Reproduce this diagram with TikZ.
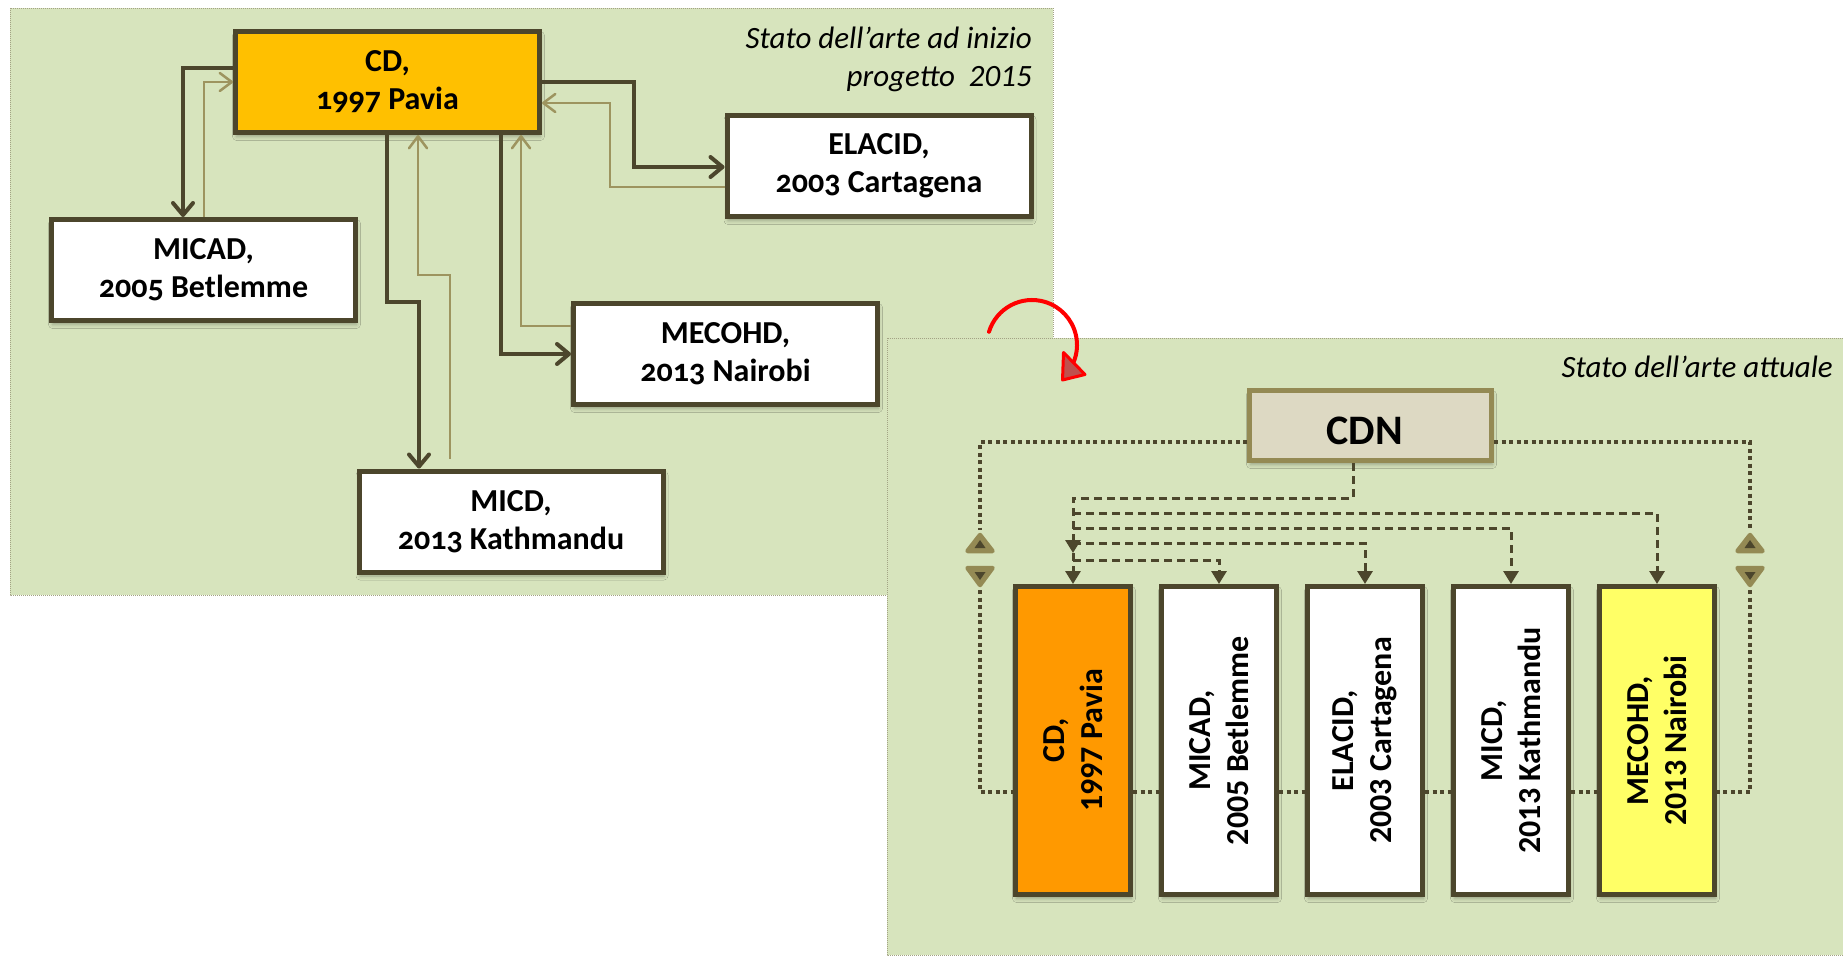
\documentclass[tikz,border=0pt]{standalone}
\usepackage{fontspec}
\setmainfont{Carlito}
\newfontfamily\oldstylefont[Numbers=OldStyle]{Carlito}
\usetikzlibrary{arrows.meta,shadows.blur}
\definecolor{panelbg}{HTML}{D7E4BD}
\definecolor{panelrule}{HTML}{A3A385}
\definecolor{darkol}{HTML}{4C462C}
\definecolor{lightol}{HTML}{9D945F}
\definecolor{cdgold}{HTML}{FFC000}
\definecolor{cdorange}{HTML}{FF9900}
\definecolor{mecyellow}{HTML}{FFFF66}
\definecolor{cdnfill}{HTML}{DDD9C3}
\definecolor{cdnrule}{HTML}{948A54}
\definecolor{arrowred}{HTML}{FF0000}
\definecolor{arrowfill}{HTML}{C0504D}
\begin{document}
\begin{tikzpicture}[x=1pt,y=-1pt,
  panel/.style={fill=panelbg, draw=panelrule, line width=0.8pt, dash pattern=on 1pt off 1pt},
  boxshadow/.style={blur shadow={shadow xshift=1pt, shadow yshift=-4pt, shadow blur radius=4pt, shadow opacity=30}},
  hbox/.style={draw=darkol, line width=5pt, fill=white, minimum width=304pt, minimum height=101pt, inner sep=0pt, align=center, font=\fontsize{32}{38}\selectfont\oldstylefont\bfseries, boxshadow},
  vbox/.style={draw=darkol, line width=5pt, fill=white, minimum width=115pt, minimum height=308pt, inner sep=0pt, boxshadow},
  vlabel/.style={rotate=90, align=center, font=\fontsize{32}{38}\selectfont\bfseries, inner sep=0pt},
  paneltitle/.style={font=\fontsize{31}{38}\selectfont\itshape, inner sep=0pt, anchor=base east},
  darkarrow/.style={draw=darkol, line width=4pt, -{Straight Barb[length=12pt,width=20pt,round]}},
  lightarrow/.style={draw=lightol, line width=2.5pt, -{Straight Barb[length=12pt,width=18pt,round]}},
  dashline/.style={draw=darkol, line width=3pt, dash pattern=on 8pt off 5pt},
  dasharrow/.style={dashline, -{Triangle[length=13pt,width=15pt]}},
  dotline/.style={draw=darkol, line width=4pt, dash pattern=on 4pt off 3.5pt},
  tripair/.pic={
    \filldraw[draw=cdnrule, fill=cdnrule, line width=4.5pt, line join=round] (-12.5,-9) -- (12.5,-9) -- (0,-25) -- cycle;
    \fill[darkol] (-5.5,-12) -- (5.5,-12) -- (0,-20) -- cycle;
    \filldraw[draw=cdnrule, fill=cdnrule, line width=4.5pt, line join=round] (-12.5,8) -- (12.5,8) -- (0,25) -- cycle;
    \fill[darkol] (-5.5,12) -- (5.5,12) -- (0,20) -- cycle;
  }
]
\useasboundingbox (0,0) rectangle (1843,955);

% ---------- left panel ----------
\path[panel] (10,8) rectangle (1053,595);
\node[paneltitle] (t1) at (1032,49) {Stato dell’arte ad inizio};
\node[paneltitle] (t2) at (1032,87) {progetto\ \ 2015};

\node[hbox, fill=cdgold] (cd) at (387.5,82) {CD,\\1997 Pavia};
\node[hbox] (micad) at (203.5,270) {MICAD,\\2005 Betlemme};
\node[hbox] (elacid) at (879,166) {ELACID,\\2003 Cartagena};
\node[hbox] (mecohd) at (725.5,354) {MECOHD,\\2013 Nairobi};
\node[hbox] (micd) at (511,521.5) {MICD,\\2013 Kathmandu};

\draw[darkarrow] (cd.west |- 0,68) -- (183,68) -- (183,0 |- micad.north);
\draw[darkarrow] (cd.east |- 0,82) -- (634,82) -- (634,167) -- (elacid.west |- 0,167);
\draw[darkarrow] (387,0 |- cd.south) -- (387,302) -- (419,302) -- (419,0 |- micd.north);
\draw[darkarrow] (501,0 |- cd.south) -- (501,354) -- (mecohd.west |- 0,354);

\draw[lightarrow] (204,0 |- micad.north) -- (204,82) -- (cd.west |- 0,82);
\draw[lightarrow] (elacid.west |- 0,187) -- (610,187) -- (610,103) -- (cd.east |- 0,103);
\draw[lightarrow, shorten <=10pt] (450,0 |- micd.north) -- (450,275) -- (418,275) -- (418,0 |- cd.south);
\draw[lightarrow] (mecohd.west |- 0,326) -- (521,326) -- (521,0 |- cd.south);

% ---------- right panel ----------
\path[panel] (887,338) rectangle (1843,955);
\node[paneltitle] (t3) at (1833,377) {Stato dell’arte attuale};

\node[draw=cdnrule, line width=5pt, fill=cdnfill, minimum width=242pt, minimum height=70pt, inner sep=0pt, boxshadow] (cdn) at (1370.5,425.5) {};
\node[font=\fontsize{42}{50}\selectfont\bfseries, inner sep=0pt] (cdnlabel) at ([xshift=-6pt,yshift=-5pt]cdn.center) {CDN};

\node[vbox, fill=cdorange] (b1) at (1073,740.5) {};
\node[vbox] (b2) at (1219,740.5) {};
\node[vbox] (b3) at (1365,740.5) {};
\node[vbox] (b4) at (1511,740.5) {};
\node[vbox, fill=mecyellow] (b5) at (1657,740.5) {};
\node[vlabel] (l1) at (b1.center) {CD,\\1997 Pavia};
\node[vlabel] (l2) at (b2.center) {MICAD,\\2005 Betlemme};
\node[vlabel] (l3) at (b3.center) {ELACID,\\2003 Cartagena};
\node[vlabel] (l4) at (b4.center) {MICD,\\2013 Kathmandu};
\node[vlabel] (l5) at (b5.center) {MECOHD,\\2013 Nairobi};

% dashed distribution
\draw[dasharrow] (1353,0 |- cdn.south) -- (1353,498) -- (1073,498) -- (1073,553);
\draw[dasharrow] (1073,553) -- (b1.north);
\draw[dasharrow] (1073,513) -- (1657,513) -- (b5.north);
\draw[dasharrow] (1073,528) -- (1511,528) -- (b4.north);
\draw[dasharrow] (1073,543) -- (1365,543) -- (b3.north);
\draw[dasharrow] (1073,560) -- (1219,560) -- (b2.north);

% dotted ring
\draw[dotline] (cdn.west |- 0,442) -- (980,442) -- (980,530);
\draw[dotline] (980,590) -- (980,792) -- (b1.west |- 0,792);
\draw[dotline] (cdn.east |- 0,442) -- (1750,442) -- (1750,530);
\draw[dotline] (1750,590) -- (1750,792) -- (b5.east |- 0,792);
\draw[dotline] (b1.east |- 0,792) -- (b2.west |- 0,792);
\draw[dotline] (b2.east |- 0,792) -- (b3.west |- 0,792);
\draw[dotline] (b3.east |- 0,792) -- (b4.west |- 0,792);
\draw[dotline] (b4.east |- 0,792) -- (b5.west |- 0,792);
\pic at (980,560) {tripair};
\pic at (1750,560) {tripair};

% red curved arrow
\draw[arrowred, line width=4pt, line cap=round] (1032,345) ++(197:45) arc[start angle=197, end angle=383, radius=45];
\filldraw[draw=arrowred, fill=arrowfill, line width=3pt, line join=round] (1063.5,352.5) -- (1085,374.5) -- (1062.5,380) -- cycle;
\end{tikzpicture}
\end{document}
